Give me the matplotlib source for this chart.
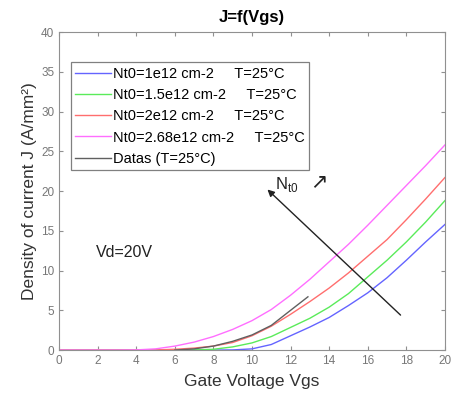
import matplotlib
matplotlib.use("Agg")
import matplotlib.pyplot as plt
import numpy as np

plt.rcParams['font.family'] = ['Liberation Sans', 'DejaVu Sans']

vgs = list(range(0, 21))
j_blue = [0]*9 + [0.02, 0.15, 0.7, 1.8, 2.9, 4.1, 5.6, 7.2, 9.1, 11.3, 13.6, 15.8]
j_green = [0]*7 + [0.02, 0.1, 0.4, 0.9, 1.7, 2.85, 4.0, 5.4, 7.1, 9.2, 11.3, 13.6, 16.1, 18.8]
j_red = [0]*5 + [0.02, 0.1, 0.25, 0.5, 0.95, 1.8, 3.0, 4.5, 6.1, 7.8, 9.7, 11.8, 13.9, 16.4, 19.0, 21.7]
j_mag = [0]*4 + [0.02, 0.15, 0.5, 1.0, 1.7, 2.6, 3.7, 5.1, 6.9, 8.9, 11.1, 13.3, 15.7, 18.2, 20.7, 23.2, 25.8]

data_vgs = [6, 7, 8, 9, 10, 11, 12, 12.9]
data_j = [0, 0.15, 0.5, 1.1, 1.9, 3.1, 5.0, 6.7]

labels = ["Nt0=1e12 cm-2     T=25°C",
          "Nt0=1.5e12 cm-2     T=25°C",
          "Nt0=2e12 cm-2     T=25°C",
          "Nt0=2.68e12 cm-2     T=25°C",
          "Datas (T=25°C)"]
colors = ['#6464ff', '#5aeb5a', '#ff6e6e', '#ff6eff', '#606060']

fig = plt.figure(figsize=(4.54, 4.01), dpi=100)
ax = fig.add_axes([0.130, 0.127, 0.850, 0.793])

for y, c, l in zip([j_blue, j_green, j_red, j_mag], colors[:4], labels[:4]):
    ax.plot(vgs, y, color=c, lw=1.0, label=l)
ax.plot(data_vgs, data_j, color=colors[4], lw=1.0, label=labels[4])

ax.set_xlim(0, 20)
ax.set_ylim(0, 40)
ax.set_xticks(range(0, 21, 2))
ax.set_yticks(range(0, 41, 5))
for s in ax.spines.values():
    s.set_color('#909090')
ax.tick_params(direction='in', top=True, right=True, colors='#909090',
               labelcolor='#777777', labelsize=8.5, length=3)

ax.set_title("J=f(Vgs)", fontsize=12, fontweight='bold', pad=7)
ax.set_xlabel("Gate Voltage Vgs", fontsize=12.5, color='#333333', labelpad=5)
ax.set_ylabel("Density of current J (A/mm²)", fontsize=12.5, color='#333333', labelpad=3)

leg = ax.legend(loc='upper left', bbox_to_anchor=(0.03, 0.905), fontsize=10.5,
                fancybox=False, edgecolor='#808080', framealpha=1,
                handlelength=2.5, handletextpad=0.1, borderpad=0.3,
                labelspacing=0.5, borderaxespad=0)
leg.get_frame().set_linewidth(0.9)

ax.annotate("", xy=(10.8, 20.2), xytext=(17.7, 4.4),
            arrowprops=dict(arrowstyle='-|>', color='#222222', lw=1.0,
                            mutation_scale=10, shrinkA=0, shrinkB=0))
ax.text(11.2, 20.3, "N$_{\\mathregular{t0}}$", fontsize=12, color='#222222')
ax.text(13.0, 20.5, "↗", fontsize=15, color='#222222', family='DejaVu Sans')
ax.text(1.9, 12.3, "Vd=20V", fontsize=11.5, color='#222222', va='center')

fig.savefig("out.png", dpi=100)
